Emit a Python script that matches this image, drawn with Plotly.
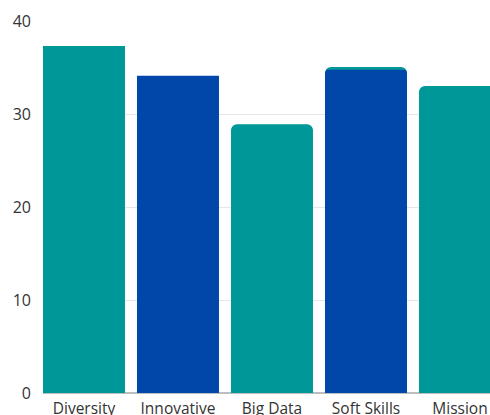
import plotly.graph_objects as go

categories = ["Diversity", "Innovative", "Big Data", "Soft Skills", "Mission"]
# series values (overlaid): teal series and blue series, split by corner style
teal_square = [37.3, None, None, None, None]
blue_square = [None, 34.1, None, None, None]
teal_round = [None, None, 28.9, 35.05, 33.0]
blue_round = [None, None, None, 34.75, None]
y_ticks = [0, 10, 20, 30, 40]

TEAL = "#009798"
BLUE = "#0047A9"
xs = list(range(len(categories)))

fig = go.Figure()
for vals, color, rad in [(teal_square, TEAL, 0), (blue_square, BLUE, 0),
                         (teal_round, TEAL, 6), (blue_round, BLUE, 6)]:
    fig.add_trace(go.Bar(x=xs, y=vals, width=0.872,
                         marker=dict(color=color, line=dict(width=0), cornerradius=rad),
                         showlegend=False, hoverinfo="skip"))

fig.update_layout(
    barmode="overlay",
    width=490, height=415,
    margin=dict(l=43, r=0, t=21, b=22, autoexpand=False),
    plot_bgcolor="white", paper_bgcolor="white",
    font=dict(family="Open Sans", size=16, color="#333333"),
    xaxis=dict(range=[-0.436, 4.319], tickmode="array", tickvals=xs, ticktext=categories,
               showgrid=False, showline=False, zeroline=False, ticks="", automargin=False,
               tickfont=dict(size=15.5), ticklabelstandoff=4),
    yaxis=dict(range=[0, 40], tickvals=y_ticks, showgrid=True, gridcolor="#e6e6e6",
               zeroline=True, zerolinecolor="#bdbdbd", zerolinewidth=1.5,
               ticks="", automargin=False, ticklabelstandoff=11),
)
fig.write_html(
    "out.html",
    config={"displayModeBar": False},
    post_script="document.body.style.margin='0';document.body.style.overflow='hidden';",
)
